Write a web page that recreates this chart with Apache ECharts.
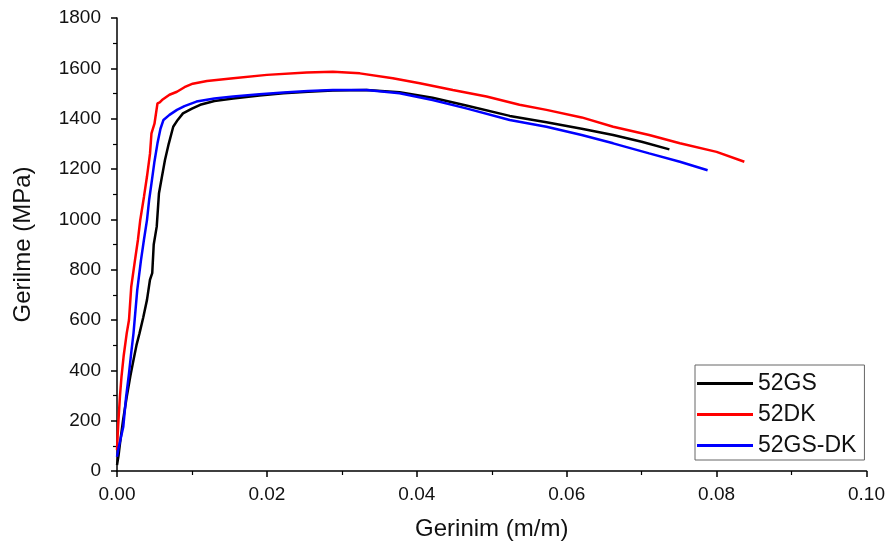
<!DOCTYPE html>
<html>
<head>
<meta charset="utf-8">
<script src="https://cdn.jsdelivr.net/npm/echarts@6/dist/echarts.min.js"></script>
<style>html,body{margin:0;padding:0;background:#fff;}#c{width:888px;height:546px;}</style>
</head>
<body>
<div id="c"></div>
<script>
var gsStrain = [0, 0.0002, 0.0004, 0.0008, 0.0013, 0.0018, 0.0022, 0.0026, 0.0030, 0.0035, 0.0040, 0.0044, 0.0047, 0.0049, 0.0053, 0.0056, 0.0060, 0.0064, 0.0069, 0.0075, 0.0081, 0.0088, 0.0100, 0.0111, 0.0130, 0.0155, 0.0190, 0.0222, 0.0255, 0.0288, 0.0333, 0.0377, 0.0421, 0.0466, 0.0524, 0.0573, 0.0620, 0.0662, 0.0700, 0.0737];
var gsStress = [24, 60, 110, 200, 295, 380, 441, 500, 547, 610, 680, 760, 786, 900, 971, 1104, 1170, 1236, 1300, 1368, 1395, 1421, 1440, 1455, 1470, 1480, 1492, 1501, 1507, 1512, 1514, 1505, 1483, 1452, 1411, 1386, 1360, 1335, 1308, 1278];

var dkStrain = [0, 0.0001, 0.0002, 0.0004, 0.0006, 0.0009, 0.0013, 0.0016, 0.0019, 0.0024, 0.0028, 0.0031, 0.0036, 0.0040, 0.0044, 0.0046, 0.0050, 0.0054, 0.0057, 0.0060, 0.0070, 0.0080, 0.0090, 0.0101, 0.0120, 0.0155, 0.0200, 0.0253, 0.0288, 0.0324, 0.0368, 0.0404, 0.0448, 0.0493, 0.0537, 0.0573, 0.0620, 0.0662, 0.0710, 0.0751, 0.0800, 0.0837];
var dkStress = [83, 150, 203, 300, 375, 460, 548, 600, 732, 838, 920, 997, 1090, 1170, 1260, 1342, 1380, 1461, 1465, 1474, 1495, 1507, 1525, 1539, 1550, 1561, 1574, 1583, 1586, 1580, 1561, 1541, 1514, 1488, 1455, 1435, 1405, 1368, 1335, 1302, 1268, 1229];

var gsdkStrain = [0, 0.0002, 0.0005, 0.00084, 0.0012, 0.0016, 0.0019, 0.0022, 0.0027, 0.0032, 0.0036, 0.0040, 0.0043, 0.0046, 0.0050, 0.0054, 0.0058, 0.0062, 0.0070, 0.0080, 0.0090, 0.0106, 0.0130, 0.0155, 0.0190, 0.0222, 0.0255, 0.0288, 0.0333, 0.0377, 0.0421, 0.0466, 0.0524, 0.0573, 0.0620, 0.0662, 0.0710, 0.0751, 0.0788];
var gsdkStress = [57, 90, 130, 176, 290, 388, 470, 547, 719, 838, 920, 997, 1080, 1143, 1230, 1302, 1360, 1395, 1415, 1435, 1450, 1468, 1480, 1488, 1497, 1504, 1510, 1514, 1514, 1501, 1474, 1441, 1395, 1368, 1335, 1302, 1262, 1229, 1195];

var seriesNames = ['52GS', '52DK', '52GS-DK'];
var seriesColors = ['#000000', '#ff0000', '#0000ff'];

function zip(a, b) { return a.map(function (v, i) { return [v, b[i]]; }); }
var seriesData = [zip(gsStrain, gsStress), zip(dkStrain, dkStress), zip(gsdkStrain, gsdkStress)];

var font = 'Arial, "Liberation Sans", sans-serif';
var chart = echarts.init(document.getElementById('c'), null, {renderer: 'canvas'});
chart.setOption({
  animation: false,
  backgroundColor: '#fff',
  grid: {left: 117, right: 21, top: 18, bottom: 75, containLabel: false},
  legend: {
    orient: 'vertical', left: 695, top: 365,
    padding: [7, 8, 3, 2], itemGap: 8, itemWidth: 56, itemHeight: 3,
    icon: 'rect',
    borderColor: '#666', borderWidth: 1, borderRadius: 0,
    textStyle: {fontFamily: font, fontSize: 23, color: '#111'},
    data: seriesNames
  },
  xAxis: {
    type: 'value', min: 0, max: 0.10, interval: 0.02,
    name: 'Gerinim (m/m)', nameLocation: 'middle', nameGap: 46,
    nameTextStyle: {fontFamily: font, fontSize: 24, color: '#111'},
    axisLine: {show: true, onZero: false, lineStyle: {color: '#000', width: 1.5}},
    axisTick: {show: true, inside: false, length: 6, lineStyle: {color: '#000', width: 1.5}},
    minorTick: {show: true, splitNumber: 2, length: 4, lineStyle: {color: '#000', width: 1.2}},
    splitLine: {show: false},
    axisLabel: {fontFamily: font, fontSize: 19, color: '#111', margin: 14,
      formatter: function (v) { return v.toFixed(2); }}
  },
  yAxis: {
    type: 'value', min: 0, max: 1800, interval: 200,
    name: 'Gerilme (MPa)', nameLocation: 'middle', nameGap: 82, nameRotate: 90,
    nameTextStyle: {fontFamily: font, fontSize: 24, color: '#111'},
    axisLine: {show: true, onZero: false, lineStyle: {color: '#000', width: 1.5}},
    axisTick: {show: true, inside: false, length: 6, lineStyle: {color: '#000', width: 1.5}},
    minorTick: {show: true, splitNumber: 2, length: 4, lineStyle: {color: '#000', width: 1.2}},
    splitLine: {show: false},
    axisLabel: {fontFamily: font, fontSize: 19, color: '#111', margin: 16,
      formatter: function (v) { return String(v); }}
  },
  series: seriesNames.map(function (n, i) {
    return {
      name: n, type: 'line', data: seriesData[i], symbol: 'none', showSymbol: false,
      smooth: false, clip: true,
      lineStyle: {color: seriesColors[i], width: 2.5},
      itemStyle: {color: seriesColors[i]}
    };
  })
});
</script>
</body>
</html>
